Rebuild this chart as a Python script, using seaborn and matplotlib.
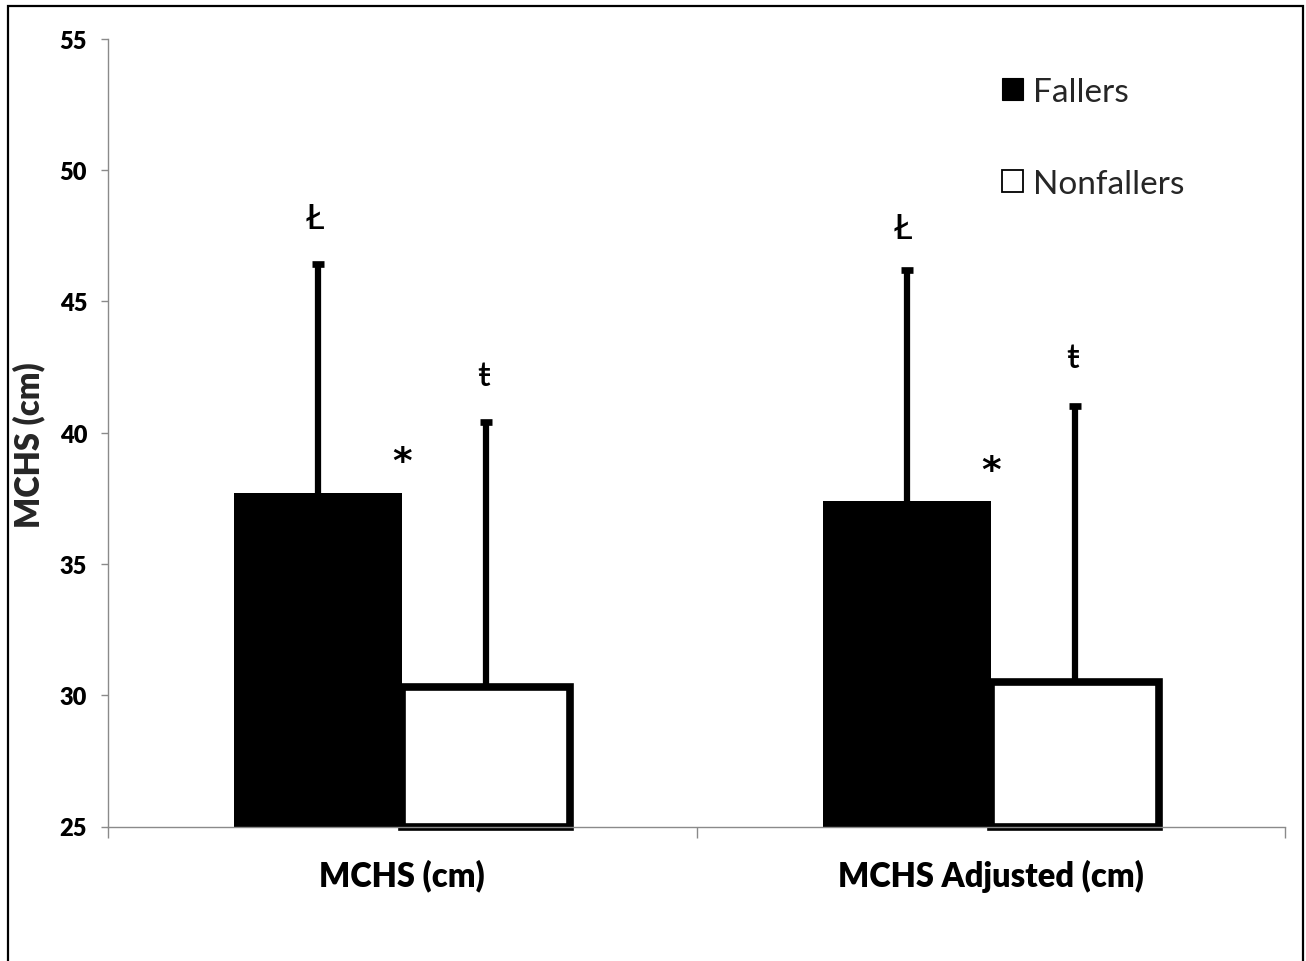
import matplotlib
matplotlib.use("Agg")
import matplotlib.pyplot as plt
import seaborn as sns
import pandas as pd
import numpy as np
from matplotlib.patches import Patch, Rectangle

# ---- data ----
categories = ["MCHS (cm)", "MCHS Adjusted (cm)"]
groups = ["Fallers", "Nonfallers"]
fallers_mean = [37.7, 37.4]
nonfallers_mean = [30.3, 30.5]
fallers_sd = [8.7, 8.8]
nonfallers_sd = [10.1, 10.5]
y_ticks = [25, 30, 35, 40, 45, 50, 55]
y_label = "MCHS (cm)"

# significance symbols (baseline heights in data units)
fallers_symbol = "Ł"
nonfallers_symbol = "ŧ"
between_symbol = "*"
fallers_symbol_y = [47.8, 47.4]
nonfallers_symbol_y = [41.8, 42.5]
between_symbol_y = [38.5, 38.15]

df = pd.DataFrame({
    "category": categories * 2,
    "group": [groups[0]] * len(categories) + [groups[1]] * len(categories),
    "mean": fallers_mean + nonfallers_mean,
})

sns.set_theme(style="white")
plt.rcParams['font.family'] = ['Lato', 'DejaVu Sans']
plt.rcParams['font.weight'] = 'heavy'
plt.rcParams['ytick.labelsize'] = 17
plt.rcParams['xtick.labelsize'] = 23.5

W, H = 1306, 962
fig = plt.figure(figsize=(W / 100, H / 100), dpi=100)
fig.patch.set_facecolor("white")
ax = fig.add_axes([108 / W, 1 - 827.5 / H, 1177 / W, 788 / H])

sns.barplot(data=df, x="category", y="mean", hue="group", order=categories,
            hue_order=groups, palette={"Fallers": "black", "Nonfallers": "white"},
            saturation=1, width=0.571, gap=0, errorbar=None, legend=False,
            edgecolor="black", linewidth=0, ax=ax)

base = y_ticks[0]
# bars rise from the axis minimum, as in the original
for cont in ax.containers:
    for bar in cont:
        top = bar.get_y() + bar.get_height()
        bar.set_y(base)
        bar.set_height(top - base)
# outline the Nonfallers bars
for bar in ax.containers[1]:
    bar.set_edgecolor("black")
    bar.set_linewidth(5.5)
    bar.set_clip_on(False)

# one-sided (upper) error bars
for cont, sds in zip(ax.containers, [fallers_sd, nonfallers_sd]):
    xs = [b.get_x() + b.get_width() / 2 for b in cont]
    tops = [b.get_y() + b.get_height() for b in cont]
    _, caps, _ = ax.errorbar(xs, tops, yerr=[np.zeros(len(sds)), sds], fmt="none",
                             ecolor="black", elinewidth=4.5, capsize=4.3,
                             capthick=4.8, zorder=0.5)
    caps[0].set_visible(False)

# significance symbols
for i, b in enumerate(ax.containers[0]):
    ax.text(b.get_x() + b.get_width() / 2 - 0.006, fallers_symbol_y[i], fallers_symbol,
            ha="center", va="baseline", fontsize=25, fontweight="medium", color="black")
for i, b in enumerate(ax.containers[1]):
    ax.text(b.get_x() + b.get_width() / 2 - 0.004, nonfallers_symbol_y[i], nonfallers_symbol,
            ha="center", va="baseline", fontsize=25, fontweight="medium", color="black")
for i in range(len(categories)):
    ax.text(i, between_symbol_y[i], between_symbol, ha="center", va="baseline",
            fontsize=27, fontweight="bold", color="black", family=["DejaVu Sans"])

# axes styling
ax.set_ylim(y_ticks[0], y_ticks[-1])
ax.set_xlim(-0.5, len(categories) - 0.5)
ax.set_yticks(y_ticks, labels=[str(t) for t in y_ticks])
ax.set_xticks(range(len(categories)), labels=categories)
ax.set_xticks(np.arange(-0.5, len(categories)), minor=True)
ax.set_xlabel("")
ax.set_ylabel(y_label, fontsize=23.5, fontweight="heavy", va="center")
ax.yaxis.set_label_coords(-0.067, 0.485)

for s in ["top", "right"]:
    ax.spines[s].set_visible(False)
for s in ["left", "bottom"]:
    ax.spines[s].set_color("#8a8a8a")
    ax.spines[s].set_linewidth(1.0)
ax.tick_params(axis="y", which="major", direction="out", length=5, width=1,
               color="#8a8a8a", pad=10, labelcolor="black", left=True)
ax.tick_params(axis="x", which="major", length=0, pad=23, labelcolor="black")
ax.tick_params(axis="x", which="minor", direction="out", length=8, width=1,
               color="#8a8a8a", bottom=True)
ax.grid(False)
ax.set_facecolor("white")

# legend
handles = [Patch(facecolor="black", edgecolor="black", linewidth=0.8),
           Patch(facecolor="white", edgecolor="black", linewidth=1.3)]
ax.legend(handles, groups, loc="upper left", bbox_to_anchor=(1002 / W, 1 - 78 / H),
          bbox_transform=fig.transFigure, frameon=False,
          prop={"size": 24, "weight": "normal", "family": ["Lato", "DejaVu Sans"]},
          handlelength=0.62, handleheight=0.62, handletextpad=0.3,
          labelspacing=1.85, borderpad=0, borderaxespad=0)

# outer frame
fig.patches.append(Rectangle((8 / W, -0.02), (1303 - 8) / W, 1.02 - 7 / H,
                             transform=fig.transFigure, fill=False,
                             edgecolor="black", linewidth=1.6, clip_on=False))

fig.savefig("out.png", dpi=100)
